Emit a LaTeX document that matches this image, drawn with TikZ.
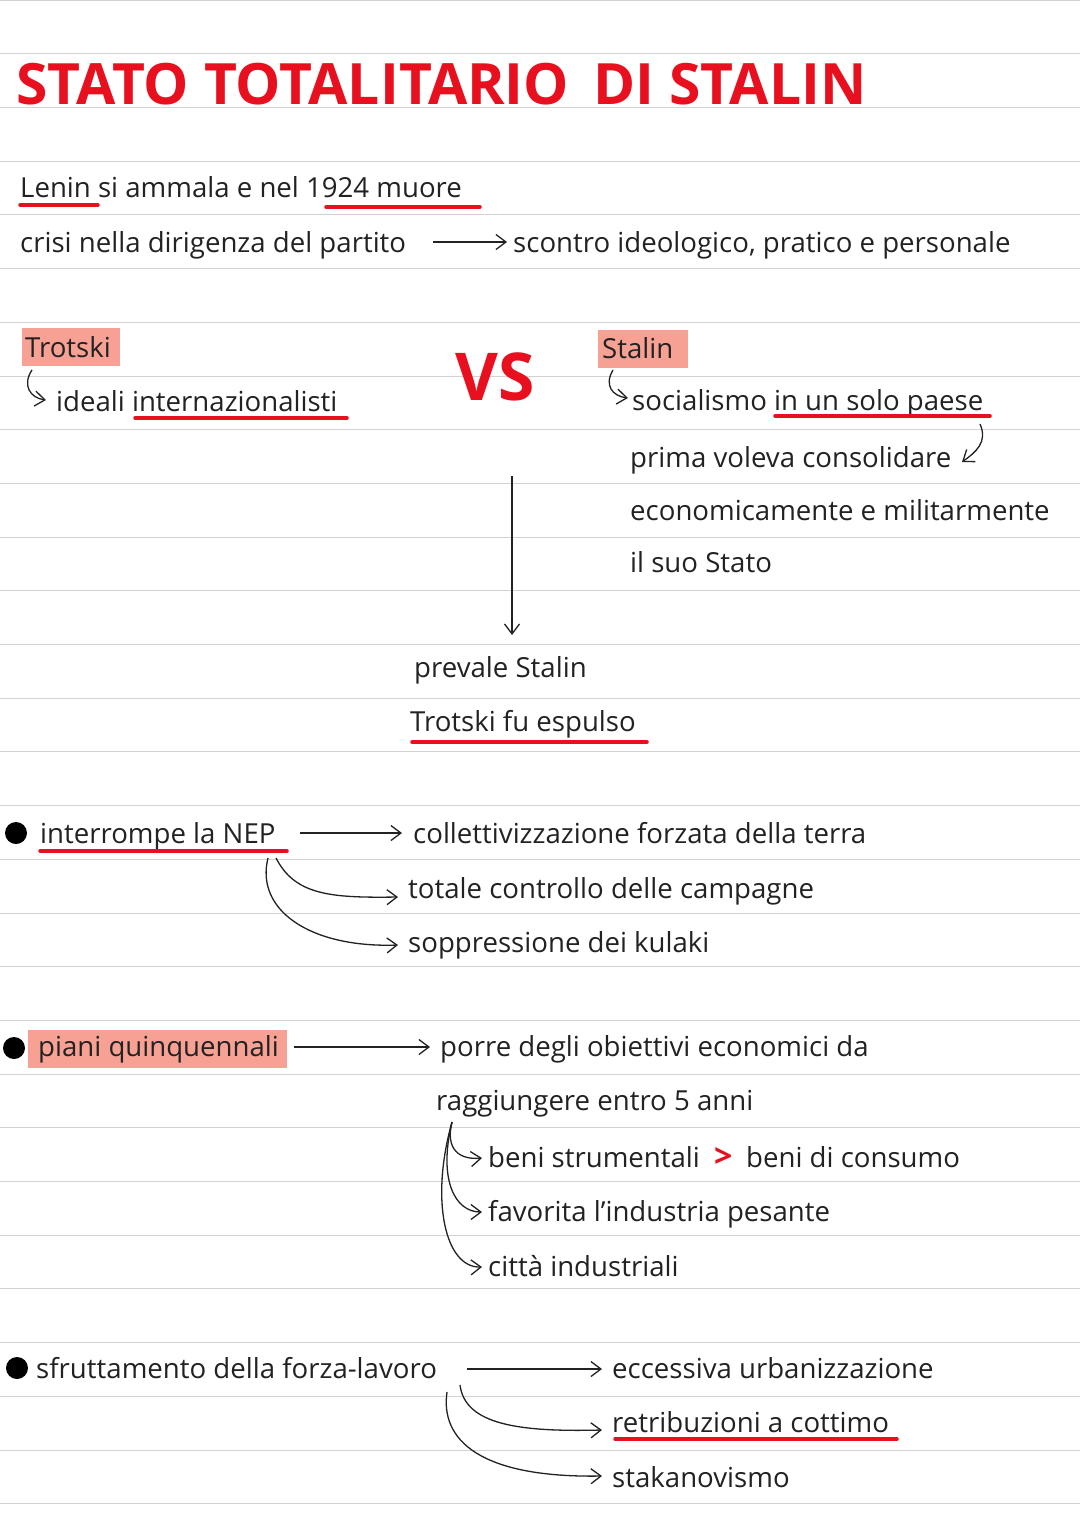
\documentclass[tikz,border=0pt]{standalone}
\usepackage{fontspec}
\setmainfont{Open Sans}
\usetikzlibrary{arrows.meta}
\definecolor{hl}{HTML}{F7A195}
\definecolor{rd}{HTML}{E8101E}
\definecolor{ink}{HTML}{222222}
\begin{document}
\begin{tikzpicture}[x=1pt,y=-1pt,
  t/.style={anchor=base west,inner sep=0pt,text=ink,font=\fontsize{27.6}{30}\selectfont},
  ul/.style={rd,line width=3.5pt,line cap=round},
  ar/.style={draw=ink,line width=1.3pt,-{Straight Barb[length=10pt,width=15pt,line width=1.3pt]}},
  hb/.style={fill=hl,draw=none}]
\useasboundingbox (0,0) rectangle (1080,1528);
\fill[white] (0,0) rectangle (1080,1528);
\foreach \y in {0,53.7,...,1510} \draw[gray!35,line width=0.8pt] (0,\y) -- (1080,\y);
\node[anchor=base west,inner sep=0pt,text=rd,font=\fontsize{57}{60}\selectfont\bfseries] (title) at (16,104) {STATO TOTALITARIO \,DI STALIN};
% highlights
\fill[hb] (22,328) rectangle (120,366);
\fill[hb] (598,330) rectangle (688,368);
\fill[hb] (28,1030) rectangle (287,1068);
\node[t] (l1) at (20,197) {Lenin si ammala e nel 1924 muore};
\node[t] (l2a) at (20,252) {crisi nella dirigenza del partito};
\node[t] (l2b) at (513,252) {scontro ideologico, pratico e personale};
\node[t] (tr) at (25,357) {Trotski};
\node[t] (tr2) at (56,411) {ideali internazionalisti};
\node[anchor=base west,inner sep=0pt,text=rd,font=\fontsize{66}{66}\selectfont\bfseries] (vs) at (455,400) {VS};
\node[t] (st) at (602,358) {Stalin};
\node[t] (st2) at (632,410) {socialismo in un solo paese};
\node[t] (st3) at (630,467) {prima voleva consolidare};
\node[t] (st4) at (630,520) {economicamente e militarmente};
\node[t] (st5) at (630,572) {il suo Stato};
\node[t] (pr) at (414,677) {prevale Stalin};
\node[t] (tf) at (410,731) {Trotski fu espulso};
\fill[black] (16,833) circle (11);
\node[t] (n1) at (40,843) {interrompe la NEP};
\node[t] (n1a) at (413,843) {collettivizzazione forzata della terra};
\node[t] (n1b) at (408,898) {totale controllo delle campagne};
\node[t] (n1c) at (408,952) {soppressione dei kulaki};
\fill[black] (14,1048) circle (11);
\node[t] (p1) at (38,1056) {piani quinquennali};
\node[t] (p1a) at (440,1056) {porre degli obiettivi economici da};
\node[t] (p1b) at (436,1110) {raggiungere entro 5 anni};
\node[t] (p1c) at (488,1167) {beni strumentali};
\node[anchor=base west,inner sep=0pt,text=rd,font=\fontsize{32}{32}\selectfont\bfseries] (gt) at (714,1167) {>};
\node[t] (p1d) at (746,1167) {beni di consumo};
\node[t] (p1e) at (488,1221) {favorita l'industria pesante};
\node[t] (p1f) at (488,1276) {città industriali};
\fill[black] (17,1368) circle (11);
\node[t] (s1) at (36,1378) {sfruttamento della forza-lavoro};
\node[t] (s1a) at (612,1378) {eccessiva urbanizzazione};
\node[t] (s1b) at (612,1432) {retribuzioni a cottimo};
\node[t] (s1c) at (612,1487) {stakanovismo};
% underlines
\draw[ul] (20,205) -- (98,205);
\draw[ul] (326,207) -- (480,207);
\draw[ul] (135,418) -- (347,418);
\draw[ul] (775,416) -- (990,416);
\draw[ul] (412,742) -- (647,742);
\draw[ul] (40,851) -- (287,851);
\draw[ul] (615,1439) -- (897,1439);
% arrows
\coordinate (a1) at (433,242); \coordinate (a1e) at (507,242);
\draw[ar] (a1) -- (a1e);
\coordinate (b1) at (32,370); \coordinate (b1e) at (46,400);
\draw[ar] (b1) .. controls (22,385) and (30,398) .. (b1e);
\coordinate (c1) at (613,370); \coordinate (c1e) at (628,398);
\draw[ar] (c1) .. controls (604,385) and (612,396) .. (c1e);
\coordinate (d1) at (980,424); \coordinate (d1e) at (962,462);
\draw[ar] (d1) .. controls (988,442) and (976,452) .. (d1e);
\coordinate (e1) at (512,476); \coordinate (e1e) at (512,635);
\draw[ar] (e1) -- (e1e);
\coordinate (f1) at (300,833); \coordinate (f1e) at (402,833);
\draw[ar] (f1) -- (f1e);
\coordinate (f2) at (276,858); \coordinate (f2e) at (398,897);
\draw[ar] (f2) .. controls (295,895) and (330,898) .. (f2e);
\coordinate (f3) at (268,858); \coordinate (f3e) at (398,945);
\draw[ar] (f3) .. controls (255,910) and (310,948) .. (f3e);
\coordinate (g1) at (294,1047); \coordinate (g1e) at (430,1047);
\draw[ar] (g1) -- (g1e);
\coordinate (h0) at (452,1122);
\draw[ar] (h0) .. controls (445,1150) and (460,1160) .. (482,1158);
\draw[ar] (h0) .. controls (438,1180) and (455,1212) .. (482,1212);
\draw[ar] (h0) .. controls (430,1200) and (445,1268) .. (482,1267);
\coordinate (k1) at (467,1369); \coordinate (k1e) at (602,1369);
\draw[ar] (k1) -- (k1e);
\coordinate (k2) at (460,1385); \coordinate (k2e) at (602,1430);
\draw[ar] (k2) .. controls (465,1425) and (520,1432) .. (k2e);
\coordinate (k3) at (447,1392); \coordinate (k3e) at (602,1476);
\draw[ar] (k3) .. controls (440,1440) and (480,1478) .. (k3e);
\end{tikzpicture}
\end{document}
